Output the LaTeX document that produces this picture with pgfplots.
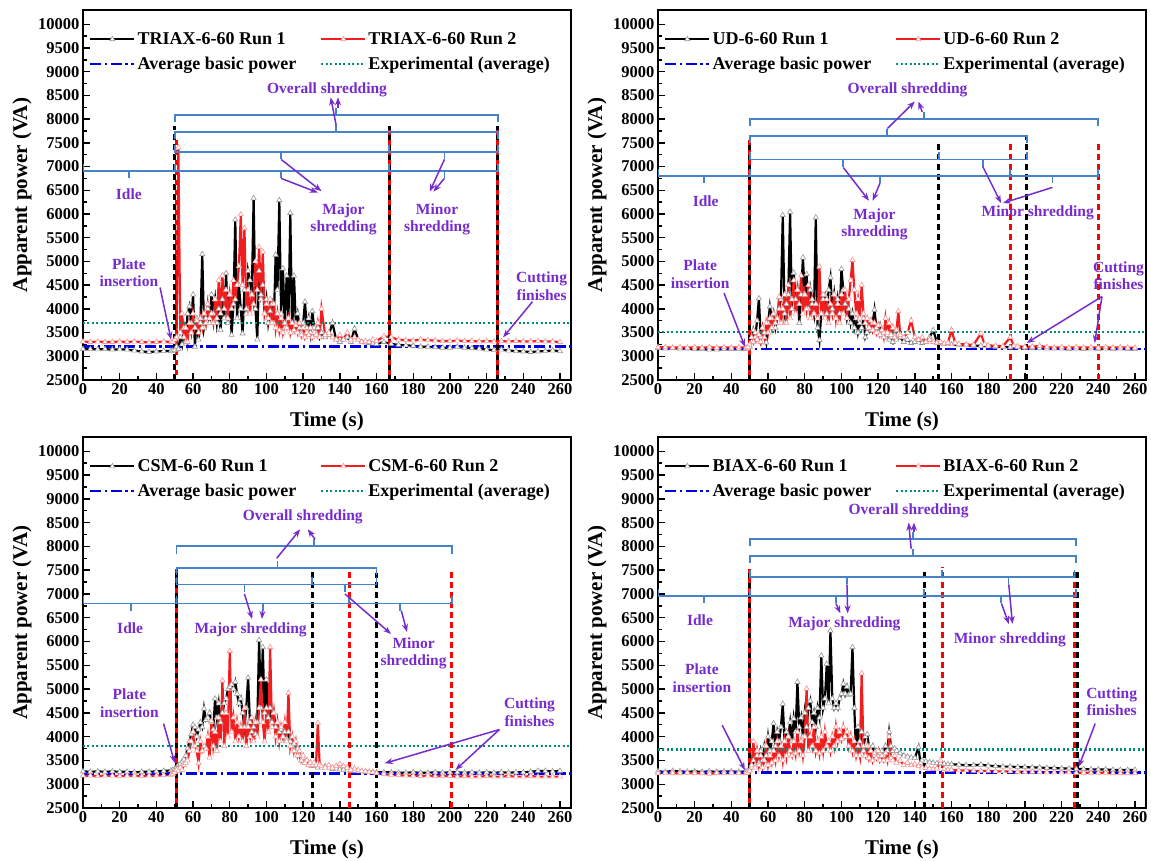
\documentclass[border=0pt]{standalone}
\usepackage{fontspec}
\setmainfont{Liberation Serif}
\usepackage{pgfplots}
\pgfplotsset{compat=1.18}
\usetikzlibrary{arrows.meta}
\definecolor{bracecol}{RGB}{70,130,200}
\definecolor{annot}{RGB}{118,44,204}
\definecolor{avgblue}{RGB}{0,0,230}
\definecolor{expteal}{RGB}{0,140,120}
\definecolor{runred}{RGB}{240,30,30}
\definecolor{markred}{RGB}{250,150,150}
\newcommand{\brc}[6]{%
  \draw[bracecol, line width=1.8pt] (axis cs:#1,#5) -- (axis cs:#1,#4) -- (axis cs:#2,#4) -- (axis cs:#2,#5);
  \draw[bracecol, line width=1.8pt] (axis cs:#3,#4) -- (axis cs:#3,#6);}
\newcommand{\arr}[4]{\draw[annot, line width=1.5pt, -{Stealth[length=8pt,width=6pt]}] (axis cs:#1,#2) -- (axis cs:#3,#4);}
\newcommand{\lab}[3]{\node[annot, font=\fontsize{15.5}{17.5}\selectfont\bfseries, align=center] at (axis cs:#1,#2) {#3};}
\pgfplotsset{
  panel/.style={
    scale only axis, width=488pt, height=370pt,
    xmin=0, xmax=266, ymin=2500, ymax=10300,
    xtick={0,20,...,260}, ytick={2500,3000,...,10000},
    scaled ticks=false,
    xticklabels={0,20,40,60,80,100,120,140,160,180,200,220,240,260},
    yticklabels={2500,3000,3500,4000,4500,5000,5500,6000,6500,7000,7500,8000,8500,9000,9500,10000},
    minor x tick num=1, minor y tick num=1,
    tick pos=left, tick align=inside,
    major tick length=7pt, minor tick length=4pt,
    every tick/.style={black, line width=1.4pt},
    axis line style={line width=1.8pt},
    tick label style={font=\fontsize{16.5}{17}\selectfont\bfseries},
    xlabel={Time (s)}, ylabel={Apparent power (VA)},
    label style={font=\fontsize{21}{21}\selectfont\bfseries},
    xlabel style={yshift=-10pt},
    ylabel style={at={(axis description cs:-0.125,0.5)}, anchor=center},
    legend style={draw=none, fill=none, at={(0.012,0.945)}, anchor=north west,
      font=\fontsize{18}{19}\selectfont\bfseries, inner sep=0pt, row sep=7pt,
      /tikz/every even column/.append style={column sep=22pt}},
    legend columns=2, legend cell align=left,
    legend image code/.code={\draw[mark repeat=2,mark phase=2,##1] plot coordinates {(0pt,0pt) (22pt,0pt) (44pt,0pt)};},
  },
  run1/.style={black, line width=2.2pt, mark=triangle*, mark size=3pt, mark options={solid, draw=black!40, fill=white, line width=0.6pt}},
  run2/.style={runred, line width=2.2pt, mark=triangle*, mark size=3pt, mark options={solid, draw=markred, fill=white, line width=0.6pt}},
  avgline/.style={avgblue, line width=2.6pt, dash pattern=on 11pt off 3.5pt on 2.5pt off 3.5pt},
  expline/.style={expteal, line width=2.2pt, dash pattern=on 2pt off 2.4pt},
}
\tikzset{
  vblack/.style={black, line width=3pt, dash pattern=on 6pt off 4pt},
  vred/.style={red, line width=3pt, dash pattern=on 6pt off 4pt},
  vredb/.style={red, line width=3pt, dash pattern=on 5pt off 5pt, dash phase=5pt},
}
\begin{document}
\begin{tikzpicture}
\useasboundingbox (0,0) rectangle (1151pt,861pt);
% ---------------- Panel 1: TRIAX ----------------
\begin{axis}[panel, at={(83pt,481pt)}, anchor=south west]
\addplot[run1] coordinates {(0,3150)(4,3150)(8,3145)(12,3150)(16,3140)(20,3145)(24,3140)(28,3120)(32,3100)(36,3090)(40,3100)(44,3110)(48,3110)(49,3120)(50,3130)(51,3200)(52,3150)(53,3400)(54,3250)(55,3600)(56,3300)(57,3900)(58,4050)(59,3700)(60,4300)(61,3200)(62,3800)(63,3350)(64,3700)(65,5150)(66,3600)(67,3800)(68,4000)(69,3700)(70,4300)(71,3900)(72,4200)(73,3700)(74,4000)(75,3550)(76,4200)(77,3800)(78,4750)(79,3700)(80,4300)(81,3450)(82,4100)(83,5880)(84,3800)(85,4500)(86,4000)(87,3480)(88,4400)(89,3900)(90,4800)(91,4600)(92,4300)(93,6330)(94,4000)(95,3350)(96,4800)(97,4300)(98,4500)(99,3900)(100,4200)(101,3700)(102,3950)(103,4100)(104,3700)(105,5140)(106,4400)(107,6290)(108,3900)(109,4850)(110,3600)(111,4700)(112,3800)(113,6020)(114,3500)(115,4700)(116,3700)(117,3900)(118,3600)(119,3500)(120,3700)(121,4150)(122,3600)(123,3800)(124,3500)(125,3950)(126,3600)(127,3500)(128,3600)(129,3400)(130,3500)(132,3400)(134,3450)(136,3700)(138,3350)(140,3300)(142,3350)(144,3400)(146,3300)(148,3580)(150,3350)(152,3300)(154,3290)(156,3280)(158,3270)(160,3260)(164,3300)(168,3260)(172,3240)(176,3230)(180,3220)(184,3200)(188,3200)(192,3190)(196,3180)(200,3180)(204,3200)(208,3180)(212,3170)(216,3160)(220,3140)(224,3130)(228,3140)(232,3120)(236,3110)(240,3100)(244,3090)(248,3100)(252,3110)(256,3120)(260,3110)};
\addplot[run2] coordinates {(0,3310)(4,3300)(8,3310)(12,3300)(16,3300)(20,3310)(24,3300)(28,3310)(32,3300)(36,3290)(40,3300)(44,3310)(48,3300)(49,3310)(50,3350)(51,3400)(52,7400)(53,3500)(54,3900)(55,3400)(56,3600)(57,3300)(58,3700)(59,3500)(60,3900)(61,3600)(62,3750)(63,3500)(64,3800)(65,3600)(66,3900)(67,3700)(68,4100)(69,3800)(70,3900)(71,3700)(72,4200)(73,3800)(74,4600)(75,3900)(76,4700)(77,4000)(78,4400)(79,3800)(80,4300)(81,4000)(82,4600)(83,4200)(84,4500)(85,4900)(86,5990)(87,4500)(88,5700)(89,4000)(90,4400)(91,3900)(92,4300)(93,4100)(94,5000)(95,4400)(96,5300)(97,4200)(98,5200)(99,3900)(100,4100)(101,3800)(102,4200)(103,3700)(104,4100)(105,3600)(106,3900)(107,3550)(108,3800)(109,3500)(110,3700)(111,3600)(112,3800)(113,3500)(114,3700)(115,3550)(116,3650)(117,3500)(118,3700)(119,3450)(120,3600)(121,3400)(122,3500)(123,3450)(124,3600)(125,3400)(126,3500)(127,3450)(128,3700)(129,3400)(130,4000)(132,3450)(134,3500)(136,3400)(138,3350)(140,3450)(142,3350)(144,3500)(146,3350)(148,3400)(150,3350)(152,3300)(154,3320)(156,3300)(158,3350)(160,3320)(164,3420)(168,3400)(172,3350)(176,3340)(180,3330)(184,3350)(188,3340)(192,3330)(196,3320)(200,3320)(204,3330)(208,3320)(212,3320)(216,3310)(220,3320)(224,3310)(228,3320)(232,3310)(236,3320)(240,3310)(244,3310)(248,3320)(252,3310)(256,3310)(260,3300)};
\addplot[avgline] coordinates {(0,3200)(266,3200)};
\addplot[expline] coordinates {(0,3700)(266,3700)};
\legend{TRIAX-6-60 Run 1, TRIAX-6-60 Run 2, Average basic power, Experimental (average)}
\draw[vblack] (axis cs:50,2500) -- (axis cs:50,7850);
\draw[vredb] (axis cs:51,2500) -- (axis cs:51,7600);
\draw[vblack] (axis cs:167,2500) -- (axis cs:167,7850);
\draw[vredb] (axis cs:167,2500) -- (axis cs:167,7850);
\draw[vblack] (axis cs:226,2500) -- (axis cs:226,7850);
\draw[vredb] (axis cs:226,2500) -- (axis cs:226,7850);
\brc{0}{50}{25}{6900}{7050}{6750}
\brc{50}{167}{108}{6900}{7050}{6750}
\brc{167}{226}{197}{6900}{7050}{6750}
\brc{50}{167}{108}{7300}{7450}{7150}
\brc{167}{226}{197}{7300}{7450}{7150}
\brc{50}{226}{138}{7720}{7570}{7870}
\brc{50}{226}{138}{8080}{7930}{8230}
\arr{108}{7150}{130}{6480}
\arr{108}{6750}{128}{6450}
\arr{197}{7150}{189}{6470}
\arr{197}{6750}{191}{6470}
\arr{138}{7870}{135}{8460}
\arr{139}{8230}{139}{8460}
\arr{42}{4450}{48}{3350}
\arr{245}{4150}{229}{3400}
\lab{133}{8610}{Overall shredding}
\lab{25}{6418}{Idle}
\lab{142}{5890}{Major\\shredding}
\lab{193}{5890}{Minor\\shredding}
\lab{25}{4760}{Plate\\insertion}
\lab{250}{4480}{Cutting\\finishes}
\end{axis}
% ---------------- Panel 2: UD ----------------
\begin{axis}[panel, at={(658pt,481pt)}, anchor=south west]
\addplot[run1] coordinates {(0,3170)(4,3160)(8,3170)(12,3160)(16,3160)(20,3150)(24,3150)(28,3140)(32,3140)(36,3150)(40,3150)(44,3150)(48,3150)(49,3160)(50,3200)(51,3300)(52,3550)(53,3400)(54,3750)(55,4220)(56,3400)(57,3600)(58,3500)(59,3290)(60,3700)(61,4050)(62,3800)(63,3900)(64,3600)(65,3800)(66,4000)(67,4200)(68,5975)(69,3900)(70,4100)(71,4300)(72,6045)(73,4000)(74,4760)(75,4200)(76,4400)(77,3700)(78,4300)(79,5080)(80,4300)(81,4730)(82,4000)(83,4400)(84,4100)(85,3900)(86,5925)(87,3600)(88,3340)(89,3900)(90,4200)(91,4290)(92,3900)(93,4400)(94,4660)(95,4000)(96,4300)(97,3800)(98,4200)(99,3900)(100,4840)(101,4400)(102,4100)(103,3800)(104,4000)(105,3700)(106,3900)(107,3600)(108,3800)(109,3500)(110,3700)(111,3600)(112,3800)(113,3400)(114,3500)(115,3600)(116,3550)(117,3700)(118,3980)(119,3600)(120,3500)(121,3650)(122,3450)(123,3500)(124,3400)(125,3450)(126,3350)(127,3400)(128,3300)(129,3450)(130,3350)(132,3400)(134,3300)(136,3350)(138,3280)(140,3300)(142,3350)(144,3280)(146,3300)(148,3400)(150,3550)(152,3300)(154,3280)(156,3260)(158,3270)(160,3250)(164,3240)(168,3230)(172,3220)(176,3220)(180,3210)(184,3200)(188,3200)(192,3190)(196,3190)(200,3180)(204,3170)(208,3170)(212,3160)(216,3160)(220,3160)(224,3150)(228,3160)(232,3150)(236,3160)(240,3150)(244,3160)(248,3150)(252,3160)(256,3150)(260,3150)};
\addplot[run2] coordinates {(0,3190)(4,3190)(8,3180)(12,3190)(16,3180)(20,3190)(24,3180)(28,3190)(32,3180)(36,3190)(40,3180)(44,3190)(48,3180)(49,3190)(50,3250)(51,3400)(52,3300)(53,3500)(54,3350)(55,3450)(56,3300)(57,3600)(58,3400)(59,3700)(60,3500)(61,3800)(62,3600)(63,3900)(64,3700)(65,3800)(66,4250)(67,3700)(68,4000)(69,4300)(70,3700)(71,4500)(72,3800)(73,4200)(74,4600)(75,3900)(76,4400)(77,4100)(78,4700)(79,3900)(80,4300)(81,4000)(82,4500)(83,3800)(84,4200)(85,3900)(86,4100)(87,3800)(88,4890)(89,3900)(90,4300)(91,3800)(92,4200)(93,3700)(94,4100)(95,3900)(96,4300)(97,3800)(98,4100)(99,3700)(100,4300)(101,3900)(102,4400)(103,3800)(104,4200)(105,4600)(106,5030)(107,4400)(108,3900)(109,4200)(110,3800)(111,4500)(112,3900)(113,3700)(114,3800)(115,3600)(116,3750)(117,3550)(118,3700)(119,3500)(120,3650)(121,3450)(122,3550)(123,3400)(124,3800)(125,3500)(126,3700)(127,3450)(128,3600)(129,3400)(130,3550)(131,3950)(132,3450)(134,3400)(136,3500)(138,3750)(140,3400)(142,3350)(144,3400)(146,3300)(148,3350)(150,3300)(152,3280)(154,3300)(156,3270)(158,3280)(160,3550)(162,3280)(164,3260)(168,3250)(172,3240)(176,3480)(178,3250)(180,3230)(184,3220)(188,3210)(192,3400)(194,3220)(196,3210)(200,3200)(204,3200)(208,3220)(212,3190)(216,3180)(220,3190)(224,3180)(228,3190)(232,3180)(236,3190)(240,3180)(244,3190)(248,3180)(252,3190)(256,3180)(260,3180)};
\addplot[avgline] coordinates {(0,3150)(266,3150)};
\addplot[expline] coordinates {(0,3520)(266,3520)};
\legend{UD-6-60 Run 1, UD-6-60 Run 2, Average basic power, Experimental (average)}
\draw[vblack] (axis cs:50,2500) -- (axis cs:50,7550);
\draw[vredb] (axis cs:50,2500) -- (axis cs:50,7550);
\draw[vblack] (axis cs:153,2500) -- (axis cs:153,7490);
\draw[vred] (axis cs:192,2500) -- (axis cs:192,7490);
\draw[vblack] (axis cs:201,2500) -- (axis cs:201,7650);
\draw[vred] (axis cs:240,2500) -- (axis cs:240,7490);
\brc{0}{50}{25}{6800}{6950}{6650}
\brc{50}{192}{121}{6800}{6950}{6650}
\brc{192}{240}{215}{6800}{6950}{6650}
\brc{50}{153}{101}{7150}{7300}{7000}
\brc{153}{201}{177}{7150}{7300}{7000}
\brc{50}{201}{125}{7650}{7500}{7800}
\brc{50}{240}{145}{8000}{7850}{8150}
\arr{101}{6980}{115}{6280}
\arr{121}{6650}{117}{6280}
\arr{177}{7000}{187}{6230}
\arr{215}{6560}{188}{6230}
\arr{125}{7800}{140}{8370}
\arr{144}{8150}{142}{8370}
\arr{36}{4330}{47.4}{3200}
\arr{242}{4260}{201}{3280}
\arr{242}{4260}{238}{3280}
\lab{136}{8620}{Overall shredding}
\lab{26}{6265}{Idle}
\lab{118}{5780}{Major\\shredding}
\lab{207}{6015}{Minor shredding}
\lab{23}{4730}{Plate\\insertion}
\lab{251}{4700}{Cutting\\finishes}
\end{axis}
% ---------------- Panel 3: CSM ----------------
\begin{axis}[panel, at={(83pt,53pt)}, anchor=south west, height=371pt]
\addplot[run1] coordinates {(0,3270)(4,3260)(8,3270)(12,3260)(16,3270)(20,3260)(24,3260)(28,3250)(32,3260)(36,3260)(40,3270)(44,3280)(48,3290)(49,3300)(50,3320)(51,3350)(52,3400)(53,3420)(54,3480)(55,3520)(56,3600)(57,3750)(58,3900)(59,4050)(60,4250)(61,4200)(62,4000)(63,4150)(64,4300)(65,4200)(66,4590)(67,4350)(68,4400)(69,4500)(70,4300)(71,4150)(72,4800)(73,4400)(74,4700)(75,4300)(76,4500)(77,4700)(78,4800)(79,5000)(80,5050)(81,5100)(82,5000)(83,5150)(84,4900)(85,4700)(86,4800)(87,4500)(88,4200)(89,4600)(90,5240)(91,4300)(92,4100)(93,4200)(94,4050)(95,4300)(96,6030)(97,4600)(98,5880)(99,4500)(100,5200)(101,4400)(102,4600)(103,4300)(104,4500)(105,4200)(106,4300)(107,4100)(108,4150)(109,4000)(110,4100)(111,3950)(112,4100)(113,3900)(114,3800)(115,3850)(116,3700)(117,3750)(118,3600)(119,3500)(120,3550)(121,3450)(122,3500)(123,3400)(124,3450)(125,3380)(126,3400)(127,3380)(128,3350)(129,3400)(130,3350)(132,3380)(134,3350)(136,3320)(138,3330)(140,3310)(142,3300)(144,3290)(146,3280)(148,3280)(150,3270)(152,3270)(154,3260)(156,3260)(158,3260)(160,3250)(164,3250)(168,3250)(172,3240)(176,3240)(180,3250)(184,3240)(188,3240)(192,3250)(196,3240)(200,3250)(204,3250)(208,3240)(212,3250)(216,3240)(220,3250)(224,3240)(228,3250)(232,3240)(236,3250)(240,3250)(244,3260)(248,3280)(252,3280)(256,3270)(260,3280)};
\addplot[run2] coordinates {(0,3180)(4,3180)(8,3170)(12,3180)(16,3180)(20,3170)(24,3180)(28,3180)(32,3170)(36,3180)(40,3180)(44,3190)(48,3200)(49,3220)(50,3250)(51,3300)(52,3280)(53,3350)(54,3300)(55,3400)(56,3450)(57,3500)(58,3700)(59,3900)(60,4100)(61,3800)(62,3700)(63,3440)(64,3900)(65,3700)(66,3800)(67,3750)(68,4000)(69,3560)(70,4330)(71,3800)(72,4100)(73,3700)(74,4400)(75,3900)(76,5180)(77,3800)(78,4500)(79,4000)(80,5800)(81,4100)(82,4400)(83,3900)(84,4300)(85,4000)(86,4200)(87,3900)(88,4600)(89,3800)(90,4200)(91,4000)(92,4400)(93,3900)(94,4300)(95,4000)(96,4600)(97,5200)(98,4300)(99,3900)(100,4600)(101,4100)(102,5880)(103,4200)(104,4500)(105,4000)(106,4300)(107,3900)(108,4200)(109,4000)(110,4300)(111,3900)(112,4920)(113,3800)(114,4000)(115,3700)(116,3900)(117,3600)(118,3700)(119,3500)(120,3600)(121,3450)(122,3500)(123,3400)(124,3450)(125,3400)(126,3450)(127,3400)(128,4290)(129,3400)(130,3380)(132,3350)(134,3400)(136,3350)(138,3380)(140,3420)(142,3380)(144,3350)(146,3300)(148,3330)(150,3300)(152,3280)(154,3270)(156,3260)(158,3250)(160,3230)(164,3210)(168,3200)(172,3190)(176,3180)(180,3180)(184,3170)(188,3180)(192,3170)(196,3170)(200,3170)(204,3160)(208,3170)(212,3160)(216,3160)(220,3170)(224,3160)(228,3160)(232,3170)(236,3160)(240,3160)(244,3170)(248,3160)(252,3160)(256,3160)(260,3160)};
\addplot[avgline] coordinates {(0,3220)(266,3220)};
\addplot[expline] coordinates {(0,3800)(266,3800)};
\legend{CSM-6-60 Run 1, CSM-6-60 Run 2, Average basic power, Experimental (average)}
\draw[vblack] (axis cs:51,2500) -- (axis cs:51,7520);
\draw[vredb] (axis cs:51,2500) -- (axis cs:51,7520);
\draw[vblack] (axis cs:125,2500) -- (axis cs:125,7520);
\draw[vred] (axis cs:145,2500) -- (axis cs:145,7520);
\draw[vblack] (axis cs:160,2500) -- (axis cs:160,7450);
\draw[vred] (axis cs:201,2500) -- (axis cs:201,7520);
\brc{0}{51}{26}{6800}{6950}{6650}
\brc{51}{145}{98}{6800}{6950}{6650}
\brc{145}{201}{173}{6800}{6950}{6650}
\brc{51}{125}{88}{7200}{7350}{7050}
\brc{125}{160}{143}{7200}{7350}{7050}
\brc{51}{160}{106}{7550}{7400}{7700}
\brc{51}{201}{126}{8000}{7850}{8150}
\arr{88}{7000}{92.2}{6474}
\arr{97.8}{6650}{97.6}{6474}
\arr{142.8}{7000}{167.9}{6160}
\arr{173.5}{6650}{176.6}{6200}
\arr{105.6}{7750}{118.4}{8360}
\arr{126.5}{8150}{122.5}{8360}
\arr{43.9}{4275}{50}{3450}
\arr{227}{4150}{164.5}{3440}
\arr{227}{4150}{203}{3300}
\lab{119.8}{8618}{Overall shredding}
\lab{25.7}{6286}{Idle}
\lab{91.4}{6244}{Major shredding}
\lab{180.2}{5750}{Minor\\shredding}
\lab{25.3}{4704}{Plate\\insertion}
\lab{243.4}{4515}{Cutting\\finishes}
\end{axis}
% ---------------- Panel 4: BIAX ----------------
\begin{axis}[panel, at={(658pt,53pt)}, anchor=south west, height=371pt]
\addplot[run1] coordinates {(0,3270)(4,3260)(8,3280)(12,3270)(16,3260)(20,3270)(24,3260)(28,3270)(32,3260)(36,3270)(40,3270)(44,3260)(48,3270)(49,3280)(50,3300)(51,3350)(52,3500)(53,3400)(54,3600)(55,3450)(56,3700)(57,3500)(58,3800)(59,3600)(60,4000)(61,3700)(62,3900)(63,4280)(64,3800)(65,4100)(66,3900)(67,4200)(68,4690)(69,3900)(70,4100)(71,4000)(72,4300)(73,3900)(74,4380)(75,4100)(76,5150)(77,4200)(78,4400)(79,4000)(80,4500)(81,4200)(82,4600)(83,4750)(84,4300)(85,4500)(86,4200)(87,4600)(88,4400)(89,5705)(90,4600)(91,4800)(92,5530)(93,4700)(94,6230)(95,4800)(96,4600)(97,4700)(98,4600)(99,4800)(100,4900)(101,5110)(102,4900)(103,5050)(104,4880)(105,4900)(106,5880)(107,4600)(108,3620)(109,4200)(110,3900)(111,4100)(112,3800)(113,4000)(114,4050)(115,3800)(116,3700)(117,3800)(118,3600)(119,3700)(120,3600)(121,3650)(122,3700)(123,3600)(124,3800)(125,3700)(126,4100)(127,3800)(128,3700)(129,3750)(130,3700)(132,3650)(134,3600)(136,3580)(138,3560)(140,3550)(142,3780)(143,3450)(144,3500)(146,3480)(148,3460)(150,3450)(152,3440)(154,3440)(156,3430)(158,3420)(160,3420)(164,3410)(168,3400)(172,3400)(176,3410)(180,3390)(184,3380)(188,3370)(192,3370)(196,3360)(200,3360)(204,3350)(208,3350)(212,3340)(216,3340)(220,3330)(224,3330)(228,3320)(232,3320)(236,3310)(240,3310)(244,3310)(248,3300)(252,3300)(256,3300)(260,3300)};
\addplot[run2] coordinates {(0,3230)(4,3240)(8,3230)(12,3230)(16,3240)(20,3230)(24,3230)(28,3220)(32,3230)(36,3230)(40,3240)(44,3230)(48,3230)(49,3240)(50,3280)(51,3400)(52,3900)(53,3350)(54,3700)(55,3400)(56,3600)(57,3350)(58,3500)(59,3800)(60,3400)(61,3600)(62,3450)(63,3700)(64,3500)(65,3900)(66,3600)(67,3800)(68,3500)(69,3900)(70,3600)(71,4000)(72,3700)(73,3600)(74,3900)(75,3650)(76,4100)(77,3700)(78,3900)(79,3600)(80,4000)(81,5010)(82,3700)(83,4000)(84,3800)(85,4200)(86,3700)(87,3900)(88,3650)(89,4000)(90,3700)(91,4100)(92,3800)(93,3900)(94,3700)(95,4000)(96,3800)(97,4200)(98,3900)(99,4100)(100,3950)(101,4200)(102,4000)(103,4100)(104,3800)(105,4000)(106,3700)(107,3900)(108,3600)(109,3800)(110,3600)(111,5330)(112,3700)(113,3600)(114,3800)(115,3550)(116,3700)(117,3500)(118,3650)(119,3550)(120,3700)(121,3500)(122,3600)(123,3500)(124,3650)(125,3500)(126,4000)(127,3550)(128,3500)(129,3600)(130,3450)(132,3500)(134,3400)(136,3450)(138,3400)(140,3420)(142,3380)(144,3350)(146,3340)(148,3330)(150,3320)(152,3330)(154,3500)(156,3320)(158,3300)(160,3300)(164,3290)(168,3290)(172,3280)(176,3280)(180,3280)(184,3270)(188,3270)(192,3270)(196,3260)(200,3260)(204,3260)(208,3260)(212,3250)(216,3250)(220,3250)(224,3250)(228,3240)(232,3240)(236,3240)(240,3240)(244,3240)(248,3230)(252,3230)(256,3230)(260,3230)};
\addplot[avgline] coordinates {(0,3250)(266,3250)};
\addplot[expline] coordinates {(0,3730)(266,3730)};
\legend{BIAX-6-60 Run 1, BIAX-6-60 Run 2, Average basic power, Experimental (average)}
\draw[vblack] (axis cs:50,2500) -- (axis cs:50,7520);
\draw[vredb] (axis cs:50,2500) -- (axis cs:50,7520);
\draw[vblack] (axis cs:145,2500) -- (axis cs:145,7520);
\draw[vred] (axis cs:155,2500) -- (axis cs:155,7557);
\draw[vred] (axis cs:227,2500) -- (axis cs:227,7520);
\draw[vblack] (axis cs:228.5,2500) -- (axis cs:228.5,7520);
\brc{0}{50}{25}{6950}{7100}{6800}
\brc{50}{145}{97}{6950}{7100}{6800}
\brc{145}{228}{187}{6950}{7100}{6800}
\brc{50}{155}{103}{7350}{7500}{7200}
\brc{155}{227}{191}{7350}{7500}{7200}
\brc{50}{228}{139}{7800}{7650}{7950}
\brc{50}{228}{139}{8150}{8000}{8300}
\arr{97}{6800}{99.4}{6592}
\arr{103}{7200}{103.4}{6592}
\arr{187.2}{6800}{191.2}{6370}
\arr{191.2}{7200}{193.2}{6370}
\arr{138}{7950}{136.6}{8500}
\arr{139.5}{8300}{139.5}{8500}
\arr{35}{4240}{47.4}{3296}
\arr{238.3}{4275}{229.3}{3365}
\lab{136.6}{8743}{Overall shredding}
\lab{22.9}{6439}{Idle}
\lab{101.6}{6382}{Major shredding}
\lab{191.8}{6034}{Minor shredding}
\lab{23.9}{5228}{Plate\\insertion}
\lab{247.3}{4735}{Cutting\\finishes}
\end{axis}
\end{tikzpicture}
\end{document}
